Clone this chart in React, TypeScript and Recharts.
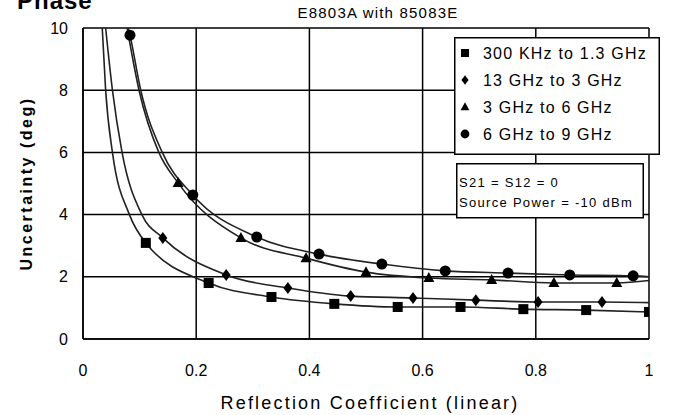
import React from "react";
import { CartesianGrid, ComposedChart, Legend, Line, XAxis, YAxis } from "recharts";

const xTicks = [0, 0.2, 0.4, 0.6, 0.8, 1];
const yTicks = [0, 2, 4, 6, 8, 10];

const seriesNames = ["300 KHz to 1.3 GHz", "13 GHz to 3 GHz", "3 GHz to 6 GHz", "6 GHz to 9 GHz"];
const seriesShapes = ["square", "diamond", "triangle", "circle"];

// measured points (drawn with markers)
const sqR = [0.111, 0.222, 0.333, 0.444, 0.556, 0.667, 0.778, 0.889, 1.0];
const sqU = [3.09, 1.8, 1.35, 1.13, 1.03, 1.03, 0.96, 0.93, 0.87];
const diR = [0.141, 0.253, 0.362, 0.473, 0.583, 0.694, 0.804, 0.917];
const diU = [3.25, 2.06, 1.64, 1.38, 1.32, 1.25, 1.19, 1.19];
const trR = [0.168, 0.279, 0.394, 0.5, 0.611, 0.722, 0.832, 0.943];
const trU = [5.02, 3.25, 2.6, 2.15, 1.96, 1.9, 1.8, 1.8];
const ciR = [0.083, 0.194, 0.307, 0.417, 0.528, 0.64, 0.751, 0.86, 0.972];
const ciU = [9.77, 4.63, 3.28, 2.73, 2.41, 2.19, 2.12, 2.06, 2.03];

// points read off the fitted curves where no marker is drawn
const sqCurveR = [0.034, 0.04, 0.052, 0.082];
const sqCurveU = [10, 8, 6, 4];
const diCurveR = [0.04, 0.052, 0.069, 0.104, 1.0];
const diCurveU = [10, 8, 6, 4, 1.17];
const trCurveR = [0.078, 0.099, 0.134, 1.0];
const trCurveU = [10, 8, 6, 1.88];
const ciCurveR = [0.08, 0.102, 0.14, 1.0];
const ciCurveU = [10, 8, 6, 2.0];

type Pt = { r: number; u: number; mark: boolean };

const build = (r: number[], u: number[], cr: number[], cu: number[]): Pt[] =>
  [
    ...r.map((v, i) => ({ r: v, u: u[i], mark: true })),
    ...cr.map((v, i) => ({ r: v, u: cu[i], mark: false })),
  ].sort((a, b) => a.r - b.r);

const series = [
  build(sqR, sqU, sqCurveR, sqCurveU),
  build(diR, diU, diCurveR, diCurveU),
  build(trR, trU, trCurveR, trCurveU),
  build(ciR, ciU, ciCurveR, ciCurveU),
];

const FONT = "'Liberation Sans', Arial, sans-serif";

function Marker({ kind, cx, cy, s = 1 }: { kind: string; cx: number; cy: number; s?: number }) {
  if (kind === "square")
    return <rect x={cx - 5 * s} y={cy - 5 * s} width={10 * s} height={10 * s} fill="#000" />;
  if (kind === "diamond")
    return (
      <polygon
        points={`${cx},${cy - 6 * s} ${cx + 4.5 * s},${cy} ${cx},${cy + 6 * s} ${cx - 4.5 * s},${cy}`}
        fill="#000"
      />
    );
  if (kind === "triangle")
    return (
      <polygon
        points={`${cx},${cy - 6 * s} ${cx + 5.5 * s},${cy + 4 * s} ${cx - 5.5 * s},${cy + 4 * s}`}
        fill="#000"
      />
    );
  return <circle cx={cx} cy={cy} r={5.5 * s} fill="#000" />;
}

function LegendBoxes() {
  return (
    <svg width={208} height={183} style={{ display: "block", fontFamily: FONT }}>
      <rect x={0.75} y={0.75} width={204.5} height={116.5} fill="#fff" stroke="#000" strokeWidth={1.5} />
      {seriesNames.map((name, i) => (
        <g key={name}>
          <Marker kind={seriesShapes[i]} cx={11} cy={16 + i * 27} s={0.8} />
          <text x={29} y={16 + i * 27 + 6} fontSize={16} letterSpacing={1.2} fill="#000">
            {name}
          </text>
        </g>
      ))}
      <rect x={2.75} y={126.75} width={186.5} height={54} fill="#fff" stroke="#000" strokeWidth={1.5} />
      <text x={5} y={150} fontSize={13} letterSpacing={1.3} fill="#000">
        S21 = S12 = 0
      </text>
      <text x={5} y={170} fontSize={13} letterSpacing={1.3} fill="#000">
        Source Power = -10 dBm
      </text>
    </svg>
  );
}

export default function App() {
  return (
    <div
      style={{
        position: "absolute",
        left: 0,
        top: 0,
        width: 674,
        height: 415,
        background: "#fff",
        fontFamily: FONT,
      }}
    >
      <ComposedChart
        width={674}
        height={415}
        margin={{ top: 28, right: 25, bottom: 36, left: 43 }}
      >
        <CartesianGrid stroke="#000" strokeWidth={1.5} />
        <XAxis
          type="number"
          dataKey="r"
          domain={[0, 1]}
          ticks={xTicks}
          interval={0}
          allowDataOverflow
          height={40}
          tickSize={0}
          tickMargin={26}
          tickLine={false}
          axisLine={{ stroke: "#000", strokeWidth: 1.5 }}
          tick={{ fontSize: 16, fill: "#000", fontFamily: FONT }}
          tickFormatter={(v: number) => String(v)}
          label={(p: any) => {
            const vb = p.viewBox;
            return (
              <text
                x={vb.x + vb.width / 2 + 4}
                y={vb.y + 70}
                textAnchor="middle"
                fontSize={18}
                letterSpacing={2.2}
                fill="#000"
                fontFamily={FONT}
              >
                Reflection Coefficient (linear)
              </text>
            );
          }}
        />
        <YAxis
          type="number"
          domain={[0, 10]}
          ticks={yTicks}
          interval={0}
          allowDataOverflow
          width={40}
          tickSize={0}
          tickMargin={15}
          tickLine={false}
          axisLine={{ stroke: "#000", strokeWidth: 1.5 }}
          tick={{ fontSize: 16, fill: "#000", fontFamily: FONT }}
          label={(p: any) => {
            const vb = p.viewBox;
            const cy = vb.y + vb.height / 2;
            const x = vb.x - 11;
            return (
              <text
                x={x}
                y={cy}
                transform={`rotate(-90 ${x} ${cy})`}
                textAnchor="middle"
                fontSize={16}
                fontWeight="bold"
                letterSpacing={2.5}
                fill="#000"
                fontFamily={FONT}
              >
                Uncertainty (deg)
              </text>
            );
          }}
        />
        {series.map((pts, i) => (
          <Line
            key={seriesNames[i]}
            name={seriesNames[i]}
            data={pts}
            dataKey="u"
            type="monotone"
            stroke="#222"
            strokeWidth={1.6}
            isAnimationActive={false}
            activeDot={false}
            dot={(p: any) =>
              p.payload.mark ? (
                <Marker key={`m-${i}-${p.index}`} kind={seriesShapes[i]} cx={p.cx} cy={p.cy} />
              ) : (
                <g key={`m-${i}-${p.index}`} />
              )
            }
          />
        ))}
        <Legend
          layout="vertical"
          align="center"
          verticalAlign="middle"
          wrapperStyle={{ left: 454, top: 37, width: 208, height: 183 }}
          content={() => <LegendBoxes />}
        />
      </ComposedChart>
      <svg
        width={674}
        height={415}
        style={{ position: "absolute", left: 0, top: 0, pointerEvents: "none", fontFamily: FONT }}
      >
        <text x={17} y={9} fontSize={24} fontWeight="bold" letterSpacing={1} fill="#000">
          Phase
        </text>
        <text x={378} y={18} textAnchor="middle" fontSize={15} letterSpacing={1.2} fill="#000">
          E8803A with 85083E
        </text>
      </svg>
    </div>
  );
}
